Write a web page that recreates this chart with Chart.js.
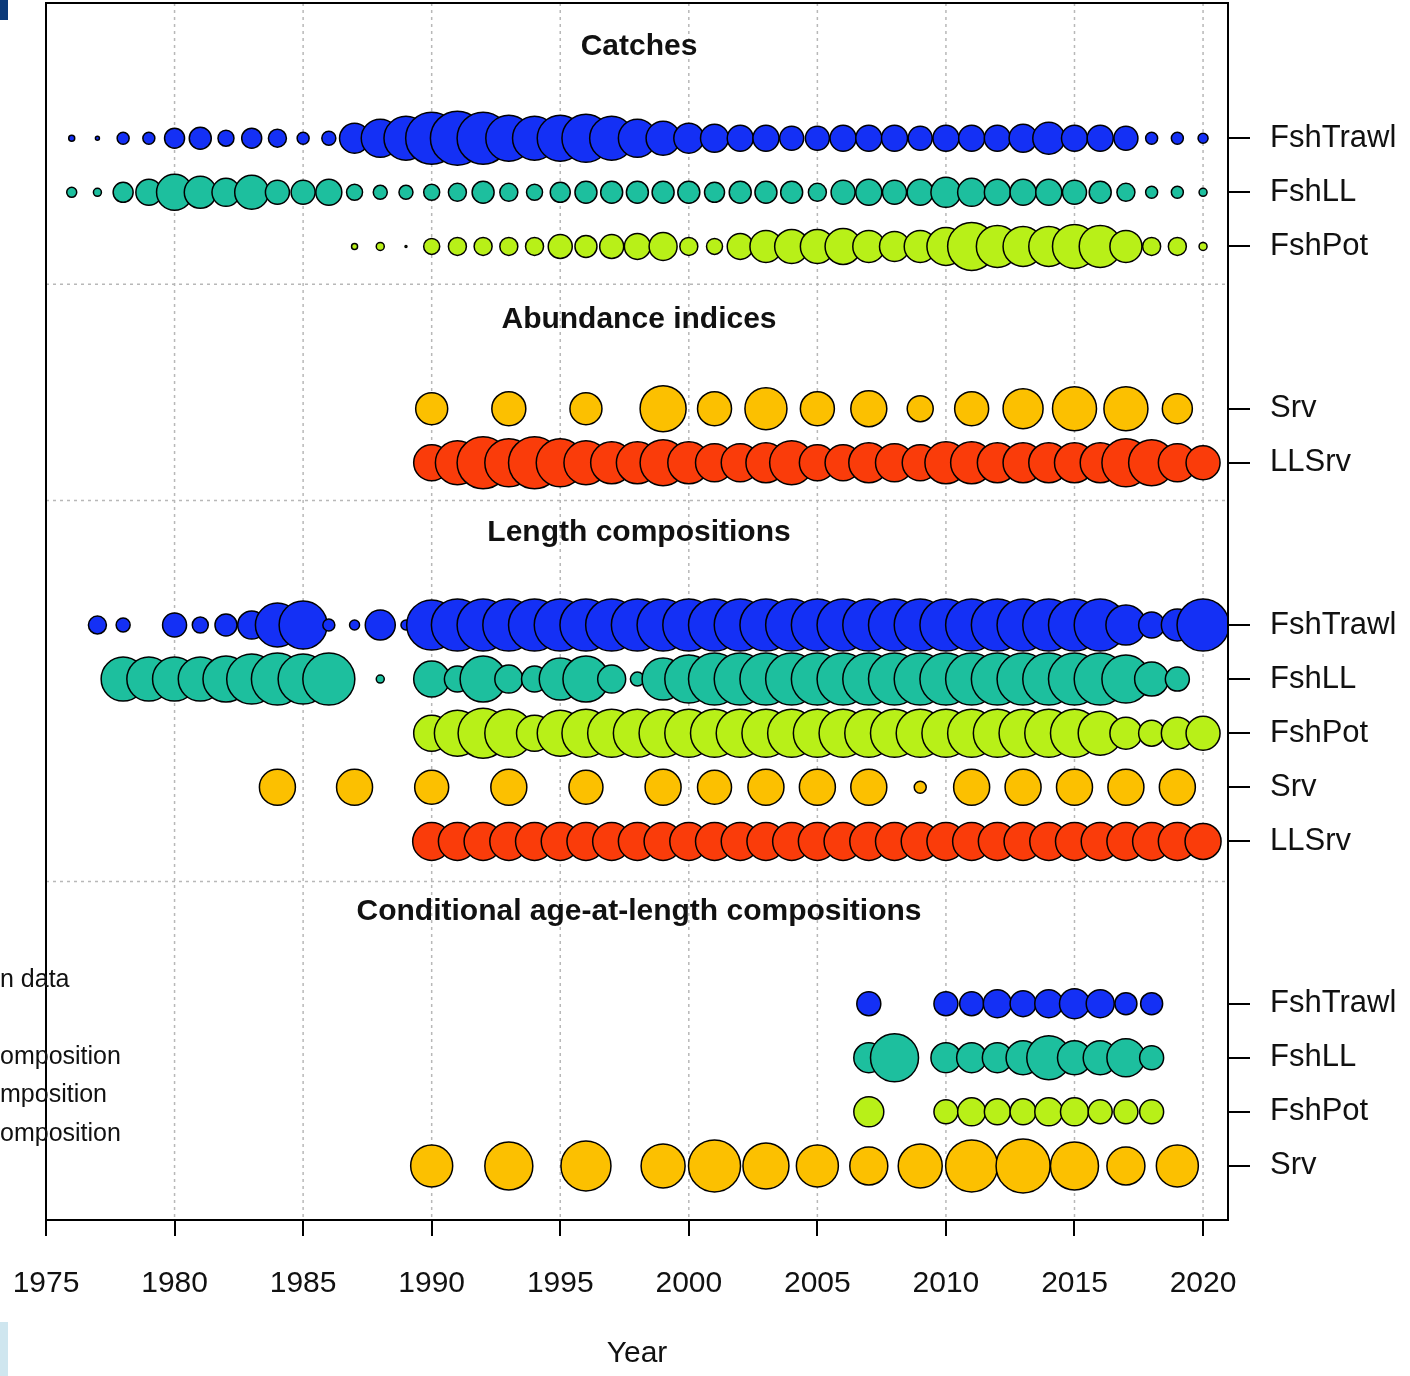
<!DOCTYPE html>
<html>
<head>
<meta charset="utf-8">
<script src="https://cdn.jsdelivr.net/npm/chart.js@4.4.1/dist/chart.umd.min.js"></script>
<style>
  body { margin: 0; background: #fff; }
  #wrap { position: relative; width: 1410px; height: 1376px; }
  .frag { position: absolute; left: 0; font: 25px "Liberation Sans", Arial, sans-serif; color: #111; }
</style>
</head>
<body>
<div id="wrap">
  <canvas id="chart" width="1410" height="1376"></canvas>
  <div style="position:absolute;left:0;top:0;width:8px;height:20px;background:#0b3a7a"></div>
  <div style="position:absolute;left:0;top:1322px;width:8px;height:54px;background:#cfe6ef"></div>
  <div class="frag" style="top:964px">n data</div>
  <div class="frag" style="top:1041px">omposition</div>
  <div class="frag" style="top:1079px">mposition</div>
  <div class="frag" style="top:1118px">omposition</div>
</div>
<script>
// row positions (units of one row spacing, 0 = top)
const rowPos = [2.5, 3.5, 4.5, 7.5, 8.5, 11.5, 12.5, 13.5, 14.5, 15.5, 18.5, 19.5, 20.5, 21.5];
const rowLabels = ['FshTrawl', 'FshLL', 'FshPot', 'Srv', 'LLSrv', 'FshTrawl', 'FshLL', 'FshPot', 'Srv', 'LLSrv', 'FshTrawl', 'FshLL', 'FshPot', 'Srv'];
const sections = ['Catches', 'Abundance indices', 'Length compositions', 'Conditional age-at-length compositions'];
const sectionTitleY = [0.8, 5.85, 9.8, 16.8];
const separators = [5.2, 9.2, 16.24];
const yearTicks = [1975, 1980, 1985, 1990, 1995, 2000, 2005, 2010, 2015, 2020];

const blue = '#1430f5', teal = '#1dbf9e', lime = '#b8f018', orange = '#fcc000', red = '#fa3c0a';

// each series: [start year, sizes...] (null = no data)
const catchTrawl = [1976, 3,2,6,6,10,11,8,10,9,6,7,15,19,22,26,27,26,23,22,23,24,22,19,17,15,14,13,13,12,12,13,13,13,12,13,13,13,14,16,13,13,12,6,6,5];
const catchLL = [1976, 5,4,10,13,18,16,14,17,12,12,13,8,7,7,8,9,11,9,8,10,11,11,11,11,11,10,11,11,11,9,12,13,12,13,15,14,13,13,13,12,11,9,6,6,4];
const catchPot = [1987, 3,4,1,8,9,9,9,9,12,11,12,13,14,9,8,13,16,17,17,18,16,15,16,19,24,21,20,20,22,21,16,9,9,4];
const indexSrvYears = [1990,1993,1996,1999,2001,2003,2005,2007,2009,2011,2013,2015,2017,2019];
const indexSrv = [16,17,16,23,17,21,17,18,13,17,20,22,22,15];
const indexLLSrv = [1990, 18,22,26,24,26,24,22,21,21,23,21,19,19,20,22,18,18,20,19,18,21,21,20,20,20,20,20,24,23,19,17];
const lenTrawl = [1977, 9,7,null,12,8,11,14,22,24,6,5,15,5,25,26,26,26,26,26,26,26,26,26,26,26,26,26,26,26,26,26,26,26,26,26,26,26,26,26,26,20,13,16,26];
const lenLL = [1978, 22,22,22,22,23,25,26,25,26,null,4,null,18,13,23,14,13,21,23,14,7,21,24,26,26,26,26,26,26,26,26,26,26,26,26,26,26,26,26,24,17,12];
const lenPot = [1990, 18,23,25,24,18,23,24,24,24,24,24,24,24,24,24,24,24,24,24,24,24,24,24,24,24,24,22,16,13,16,17];
const lenSrvYears = [1984,1987,1990,1993,1996,1999,2001,2003,2005,2007,2009,2011,2013,2015,2017,2019];
const lenSrv = [18,18,17,18,17,18,17,18,18,18,6,18,18,18,18,18];
const lenLLSrv = [1990, 19,19,19,19,19,19,19,19,19,19,19,19,19,19,19,19,19,19,19,19,19,19,19,19,19,19,19,19,19,19,18];
const caalYears = [2007,2008,2010,2011,2012,2013,2014,2015,2016,2017,2018];
const caalTrawl = [12,null,12,12,14,13,14,15,14,11,11];
const caalLL = [15,24,15,15,15,17,22,17,17,19,12];
const caalPot = [15,null,12,14,13,13,14,14,12,12,12];
const caalSrvYears = [1990,1993,1996,1999,2001,2003,2005,2007,2009,2011,2013,2015,2017,2019];
const caalSrv = [21,24,25,22,26,23,21,19,22,26,27,24,19,21];

function seq(arr, y) {
  const start = arr[0];
  return arr.slice(1).map((r, i) => r == null ? null : { x: start + i, y: y, r: r }).filter(Boolean);
}
function pairs(years, sizes, y) {
  return years.map((yr, i) => sizes[i] == null ? null : { x: yr, y: y, r: sizes[i] }).filter(Boolean);
}
function ds(data, color) {
  return { data: data, backgroundColor: color, borderColor: '#000', borderWidth: 1.5 };
}

const datasets = [
  ds(seq(catchTrawl, rowPos[0]), blue),
  ds(seq(catchLL, rowPos[1]), teal),
  ds(seq(catchPot, rowPos[2]), lime),
  ds(pairs(indexSrvYears, indexSrv, rowPos[3]), orange),
  ds(seq(indexLLSrv, rowPos[4]), red),
  ds(seq(lenTrawl, rowPos[5]), blue),
  ds(seq(lenLL, rowPos[6]), teal),
  ds(seq(lenPot, rowPos[7]), lime),
  ds(pairs(lenSrvYears, lenSrv, rowPos[8]), orange),
  ds(seq(lenLLSrv, rowPos[9]), red),
  ds(pairs(caalYears, caalTrawl, rowPos[10]), blue),
  ds(pairs(caalYears, caalLL, rowPos[11]), teal),
  ds(pairs(caalYears, caalPot, rowPos[12]), lime),
  ds(pairs(caalSrvYears, caalSrv, rowPos[13]), orange)
];

// scales should not reserve extra room for overhanging labels
function noPad(s) { s.paddingLeft = 0; s.paddingRight = 0; s.paddingTop = 0; s.paddingBottom = 0; }

const decor = {
  id: 'decor',
  beforeDatasetsDraw(chart) {
    const ctx = chart.ctx, a = chart.chartArea, xs = chart.scales.x, ys = chart.scales.y;
    ctx.save();
    ctx.strokeStyle = '#b8b8b8';
    ctx.lineWidth = 1.5;
    ctx.setLineDash([3, 4]);
    yearTicks.forEach(t => {
      const px = xs.getPixelForValue(t);
      ctx.beginPath(); ctx.moveTo(px, a.top); ctx.lineTo(px, a.bottom); ctx.stroke();
    });
    separators.forEach(s => {
      const py = ys.getPixelForValue(s);
      ctx.beginPath(); ctx.moveTo(a.left, py); ctx.lineTo(a.right, py); ctx.stroke();
    });
    ctx.setLineDash([]);
    ctx.fillStyle = '#111';
    ctx.font = 'bold 30px "Liberation Sans", Arial, sans-serif';
    ctx.textAlign = 'center';
    ctx.textBaseline = 'middle';
    sections.forEach((s, i) => ctx.fillText(s, (a.left + a.right) / 2 + 2, ys.getPixelForValue(sectionTitleY[i])));
    ctx.restore();
  },
  afterDraw(chart) {
    const ctx = chart.ctx, a = chart.chartArea;
    ctx.save();
    ctx.strokeStyle = '#000';
    ctx.lineWidth = 2;
    ctx.strokeRect(a.left, a.top, a.right - a.left, a.bottom - a.top);
    ctx.restore();
  }
};

new Chart(document.getElementById('chart'), {
  type: 'bubble',
  data: { datasets: datasets },
  options: {
    responsive: false,
    animation: false,
    layout: { autoPadding: false, padding: { top: 3, left: 0, right: 0, bottom: 0 } },
    plugins: { legend: { display: false }, tooltip: { enabled: false } },
    scales: {
      x: {
        type: 'linear', min: 1975, max: 2020.97,
        afterBuildTicks: s => { s.ticks = yearTicks.map(v => ({ value: v })); },
        afterFit: s => { s.height = 156; noPad(s); },
        grid: { drawOnChartArea: false, tickLength: 16, color: '#000', lineWidth: 2 },
        border: { display: false },
        ticks: { color: '#111', font: { size: 30, family: 'Liberation Sans, Arial' }, padding: 30, maxRotation: 0, callback: v => String(v) },
        title: { display: true, text: 'Year', color: '#111', font: { size: 30, family: 'Liberation Sans, Arial' }, padding: { top: 36 } }
      },
      y: {
        type: 'linear', min: 0, max: 22.5, reverse: true, position: 'left',
        afterFit: s => { s.width = 46; noPad(s); },
        ticks: { display: false },
        grid: { display: false },
        border: { display: false }
      },
      y2: {
        type: 'linear', min: 0, max: 22.5, reverse: true, position: 'right',
        afterBuildTicks: s => { s.ticks = rowPos.map(v => ({ value: v })); },
        afterFit: s => { s.width = 182; noPad(s); },
        grid: { drawOnChartArea: false, tickLength: 22, color: '#000', lineWidth: 2 },
        border: { display: false },
        ticks: {
          color: '#111', padding: 20, font: { size: 31, family: 'Liberation Sans, Arial' },
          callback: (v, i) => rowLabels[i]
        }
      }
    }
  },
  plugins: [decor]
});
</script>
</body>
</html>
